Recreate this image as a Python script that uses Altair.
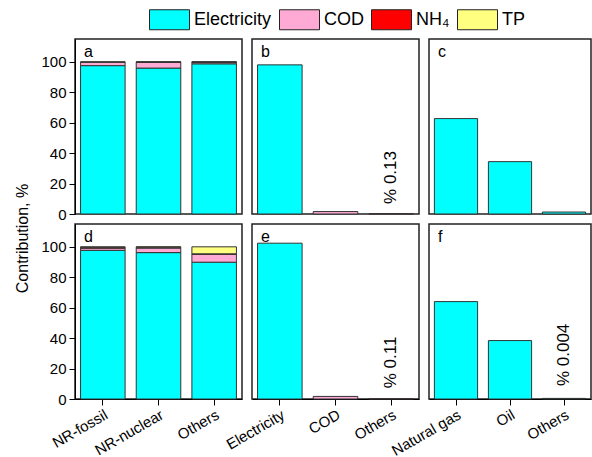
import altair as alt
import pandas as pd

FONT = "Liberation Sans"

components = ["Electricity", "COD", "NH₄", "TP"]
comp_colors = ["#00FFFF", "#FFAAD5", "#FF0000", "#FFFF80"]

# Row 1 / Row 2, first column: stacked contributions
ad_cats = ["NR-fossil", "NR-nuclear", "Others"]
a_elec = [97.5, 95.9, 98.7]
a_cod = [2.1, 3.8, 1.0]
a_nh4 = [0.2, 0.2, 0.2]
a_tp = [0.2, 0.1, 0.1]

d_elec = [97.7, 96.2, 89.9]
d_cod = [1.4, 3.0, 5.2]
d_nh4 = [0.6, 0.6, 0.3]
d_tp = [0.3, 0.2, 4.6]

# Second column: contribution by component
be_cats = ["Electricity", "COD", "Others"]
be_comps = ["Electricity", "COD", "NH₄"]
b_vals = [98.0, 1.6, 0.13]
e_vals = [102.4, 1.7, 0.11]

# Third column: contribution by fuel
cf_cats = ["Natural gas", "Oil", "Others"]
cf_comps = ["Electricity", "Electricity", "Electricity"]
c_vals = [62.7, 34.4, 1.3]
f_vals = [64.0, 38.4, 0.4]

# rotated notes: (text, value level in %)
note_b = ("% 0.13", 24)
note_e = ("% 0.11", 24)
note_f = ("% 0.004", 29)

y_ticks = [0, 20, 40, 60, 80, 100]


def stacked_df(cats, elec, cod, nh4, tp):
    rows = []
    for i, c in enumerate(cats):
        for k, (comp, vals) in enumerate(zip(components, [elec, cod, nh4, tp])):
            rows.append({"cat": c, "comp": comp, "value": vals[i], "ord": k})
    return pd.DataFrame(rows)


def simple_df(cats, comps, vals):
    return pd.DataFrame({"cat": cats, "comp": comps, "value": vals,
                         "ord": [components.index(c) for c in comps]})


def panel(df, cats, letter, show_y, show_x, note=None, width=167, height=175):
    if show_x:
        x_axis = alt.Axis(title=None, labelAngle=-30, labelFontSize=15, labelFont=FONT,
                          labelColor="black", tickColor="black", tickSize=6,
                          domainColor="black", labelPadding=2)
    else:
        x_axis = None
    if show_y:
        y_axis = alt.Axis(values=y_ticks, title="Contribution, %" if show_y == "title" else None,
                          labelFontSize=15, labelFont=FONT, labelColor="black",
                          tickColor="black", tickSize=6, domainColor="black", grid=False,
                          labelPadding=3,
                          titleFont=FONT, titleFontSize=16, titleFontWeight="normal",
                          titleColor="black", titleY=14, titlePadding=10)
    else:
        y_axis = None
    xs = alt.Scale(domain=cats, paddingInner=0.2, paddingOuter=0.1)
    ys = alt.Scale(domain=[0, 115], nice=False)
    bars = alt.Chart(df).mark_bar(stroke="#333333", strokeWidth=1).encode(
        x=alt.X("cat:N", sort=cats, scale=xs, axis=x_axis),
        y=alt.Y("value:Q", stack="zero", scale=ys, axis=y_axis),
        color=alt.Color("comp:N", scale=alt.Scale(domain=components, range=comp_colors),
                        sort=components,
                        legend=alt.Legend(title=None, orient="none", direction="horizontal",
                                          legendX=84, legendY=-30,
                                          symbolType="M-2,-1H2V1H-2Z", symbolSize=400,
                                          symbolStrokeColor="#222222", symbolStrokeWidth=1,
                                          symbolOpacity=1,
                                          labelFontSize=18, labelFont=FONT, labelColor="black",
                                          labelOffset=14, columnPadding=5)),
        order=alt.Order("ord:Q"),
    )
    lab = alt.Chart(pd.DataFrame({"t": [letter]})).mark_text(
        align="left", baseline="alphabetic", fontSize=16, font=FONT, color="black"
    ).encode(text="t:N", x=alt.value(9), y=alt.value(18))
    layers = [bars, lab]
    if note is not None:
        ndf = pd.DataFrame({"cat": ["Others"], "v": [note[1]], "t": [note[0]]})
        nt = alt.Chart(ndf).mark_text(angle=270, align="center", baseline="middle",
                                      fontSize=17, font=FONT, color="black").encode(
            x=alt.X("cat:N", sort=cats, scale=xs, axis=x_axis),
            y=alt.Y("v:Q", scale=ys, axis=y_axis),
            text="t:N")
        layers.append(nt)
    return alt.layer(*layers).properties(width=width, height=height)


pa = panel(stacked_df(ad_cats, a_elec, a_cod, a_nh4, a_tp), ad_cats, "a", "plain", False)
pb = panel(simple_df(be_cats, be_comps, b_vals), be_cats, "b", False, False, note_b)
pc = panel(simple_df(cf_cats, cf_comps, c_vals), cf_cats, "c", False, False, width=162)
pd_ = panel(stacked_df(ad_cats, d_elec, d_cod, d_nh4, d_tp), ad_cats, "d", "title", True)
pe = panel(simple_df(be_cats, be_comps, e_vals), be_cats, "e", False, True, note_e)
pf = panel(simple_df(cf_cats, cf_comps, f_vals), cf_cats, "f", False, True, note_f, width=162)

chart = alt.concat(pa, pb, pc, pd_, pe, pf, columns=3, spacing=10, bounds="flush").properties(
    padding={"left": 14, "top": 9, "right": 0, "bottom": 5}
).resolve_scale(
    x="independent", y="independent"
).configure(
    font=FONT
).configure_view(
    stroke="#222222", strokeWidth=1.5
)

chart.save("out.html", embed_options={"renderer": "svg", "actions": False})
